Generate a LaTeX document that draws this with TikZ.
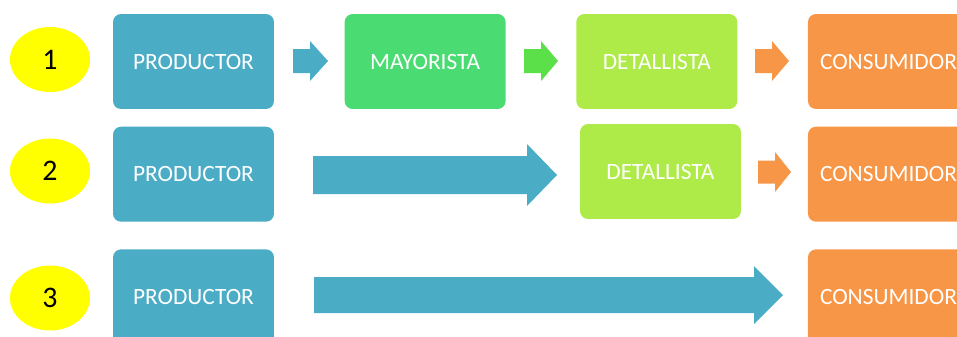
\documentclass[tikz,border=0pt]{standalone}
\usepackage{fontspec}
\setmainfont{Carlito}
\usepackage{tikz}
\usetikzlibrary{positioning,shapes.geometric}
\definecolor{CBlue}{HTML}{4BACC6}
\definecolor{CGreen}{HTML}{4ADB72}
\definecolor{CArrowGreen}{HTML}{5CE04A}
\definecolor{CLime}{HTML}{AEEB48}
\definecolor{COrange}{HTML}{F79646}
\definecolor{CYellow}{HTML}{FFFF00}

% block arrow: colour, x start, x tip, x head, y centre, shaft half, head half
\newcommand{\blockarr}[7]{%
  \fill[#1] ({#2},{#5-#6}) -- ({#4},{#5-#6}) -- ({#4},{#5-#7}) -- ({#3},{#5})
    -- ({#4},{#5+#7}) -- ({#4},{#5+#6}) -- ({#2},{#5+#6}) -- cycle;}

\begin{document}
\begin{tikzpicture}[
  x=0.02cm, y=-0.02cm,
  node distance=14mm,
  box/.style={rounded corners=1.6mm,minimum width=3.22cm,minimum height=1.9cm,
    inner sep=0pt,text=white,font=\fontsize{13.3}{15}\selectfont},
  num/.style={ellipse,fill=CYellow,minimum width=1.6cm,minimum height=1.3cm,
    inner sep=0pt,font=\fontsize{17}{19}\selectfont}
]
  \clip (0,0) rectangle (957,336);
  \useasboundingbox (0,0) rectangle (957,336);

  \node[num] (n1) at (50,59.5) {1};
  \node[num] (n2) at (50,171) {2};
  \node[num] (n3) at (50,298) {3};

  % canal 1
  \node[box,fill=CBlue] (p1) at (193.5,61.5) {PRODUCTOR};
  \node[box,fill=CGreen,right=of p1] (m1) {MAYORISTA};
  \node[box,fill=CLime,right=of m1] (d1) {DETALLISTA};
  \node[box,fill=COrange,right=of d1] (c1) {CONSUMIDOR};
  \blockarr{CBlue}{293}{328}{310}{61}{12}{20}
  \blockarr{CArrowGreen}{524}{558}{541}{61}{12}{20}
  \blockarr{COrange}{755}{789}{772}{61}{12}{20}

  % canal 2
  \node[box,fill=CBlue,below=3.4mm of p1] (p2) {PRODUCTOR};
  \node[box,fill=CLime] (d2) at (660.5,171.5) {DETALLISTA};
  \node[box,fill=COrange,below=3.4mm of c1] (c2) {CONSUMIDOR};
  \blockarr{CBlue}{313}{557}{527}{175}{19}{31}
  \blockarr{COrange}{758}{791}{775}{172}{11.5}{20}

  % canal 3
  \node[box,fill=CBlue,below=5.4mm of p2] (p3) {PRODUCTOR};
  \node[box,fill=COrange,below=5.4mm of c2] (c3) {CONSUMIDOR};
  \blockarr{CBlue}{314}{783}{754}{295}{18}{29}
\end{tikzpicture}
\end{document}
